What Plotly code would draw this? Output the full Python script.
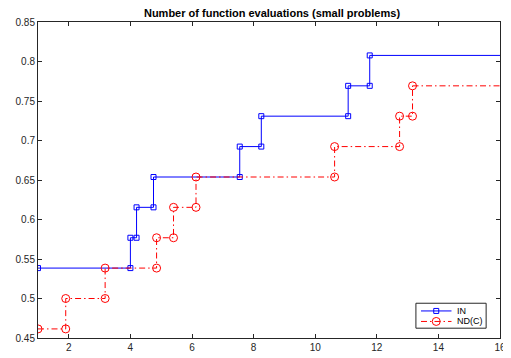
import plotly.graph_objects as go

# Step breakpoints (x) and levels (y)
in_x = [1.0, 4.0, 4.2, 4.75, 7.55, 8.25, 11.07, 11.77]
in_y = [0.5385, 0.5769, 0.6154, 0.6538, 0.6923, 0.7308, 0.7692, 0.8077]

nd_x = [1.0, 1.9, 3.18, 4.85, 5.4, 6.13, 10.63, 12.74, 13.16]
nd_y = [0.4615, 0.5, 0.5385, 0.5769, 0.6154, 0.6538, 0.6923, 0.7308, 0.7692]

series_names = ["IN", "ND(C)"]

x_end = 16
x_ticks = [2, 4, 6, 8, 10, 12, 14, 16]
y_ticks = [0.45, 0.5, 0.55, 0.6, 0.65, 0.7, 0.75, 0.8, 0.85]
y_tick_labels = ["0.45", "0.5", "0.55", "0.6", "0.65", "0.7", "0.75", "0.8", "0.85"]


def stair_vertices(xs, ys):
    vx, vy = [xs[0]], [ys[0]]
    for i in range(1, len(xs)):
        vx += [xs[i], xs[i]]
        vy += [ys[i - 1], ys[i]]
    return vx, vy


DASHDOT = "6px,3px,1.5px,3px"
styles = [
    dict(color="#0000ff", dash="solid", symbol="square-open", size=5),
    dict(color="#ff0000", dash=DASHDOT, symbol="circle-open", size=8),
]

fig = go.Figure()

for name, xs, ys, st in zip(series_names, [in_x, nd_x], [in_y, nd_y], styles):
    vx, vy = stair_vertices(xs, ys)
    fig.add_trace(go.Scatter(
        x=vx, y=vy, mode="lines+markers", name=name, showlegend=False,
        line=dict(color=st["color"], width=1, dash=st["dash"]),
        marker=dict(symbol=st["symbol"], size=st["size"], color=st["color"],
                    line=dict(width=1, color=st["color"])),
    ))
    fig.add_trace(go.Scatter(
        x=[xs[-1], x_end], y=[ys[-1], ys[-1]], mode="lines", showlegend=False,
        line=dict(color=st["color"], width=1, dash=st["dash"]), hoverinfo="skip",
    ))

# Compact MATLAB-style legend drawn on an invisible overlay axis (0..1 over the plot area)
leg_box = dict(x0=0.818, x1=0.970, y0=0.031, y1=0.110)
leg_rows = [0.0856, 0.0524]
leg_line = (0.829, 0.895)
leg_mark = 0.862
leg_text = 0.903
for name, st, ry in zip(series_names, styles, leg_rows):
    fig.add_trace(go.Scatter(
        x=list(leg_line), y=[ry, ry], xaxis="x2", yaxis="y2", mode="lines",
        showlegend=False, hoverinfo="skip",
        line=dict(color=st["color"], width=1, dash=st["dash"]),
    ))
    fig.add_trace(go.Scatter(
        x=[leg_mark], y=[ry], xaxis="x2", yaxis="y2", mode="markers",
        showlegend=False, hoverinfo="skip",
        marker=dict(symbol=st["symbol"], size=st["size"], color=st["color"],
                    line=dict(width=1, color=st["color"])),
    ))
    fig.add_annotation(
        x=leg_text, y=ry, xref="x2", yref="y2", text=name, showarrow=False,
        xanchor="left", yanchor="middle",
        font=dict(family="Liberation Sans, Arial, sans-serif", size=9, color="black"),
    )

fig.add_shape(type="rect", xref="x2", yref="y2", layer="below",
              line=dict(color="#262626", width=1), fillcolor="white", **leg_box)

font_fam = "Liberation Sans, Arial, sans-serif"
axis_common = dict(
    showgrid=False, zeroline=False, showline=True, linecolor="#262626", linewidth=1,
    mirror="ticks", ticks="inside", ticklen=4, tickcolor="#262626",
    tickfont=dict(family=font_fam, size=10, color="#262626"),
)

fig.update_layout(
    xaxis=dict(range=[1, 16], tickvals=x_ticks, **axis_common),
    yaxis=dict(range=[0.45, 0.85], tickvals=y_ticks, ticktext=y_tick_labels, **axis_common),
    xaxis2=dict(range=[0, 1], overlaying="x", visible=False, fixedrange=True),
    yaxis2=dict(range=[0, 1], overlaying="y", visible=False, fixedrange=True),
)

# page has an 8px body margin; figure is sized/margined to compensate
W, H = 503, 350
fig.update_layout(
    width=W, height=H,
    margin=dict(l=30, r=5, t=14, b=17),
    paper_bgcolor="white", plot_bgcolor="white",
    showlegend=False,
    title=dict(
        text="<b>Number of function evaluations (small problems)</b>",
        x=(30 + 498) / 2 / W, xanchor="center",
        y=1 - 5 / H, yanchor="middle", yref="container",
        font=dict(family=font_fam, size=11, color="black"),
    ),
)

fig.write_html("out.html")
